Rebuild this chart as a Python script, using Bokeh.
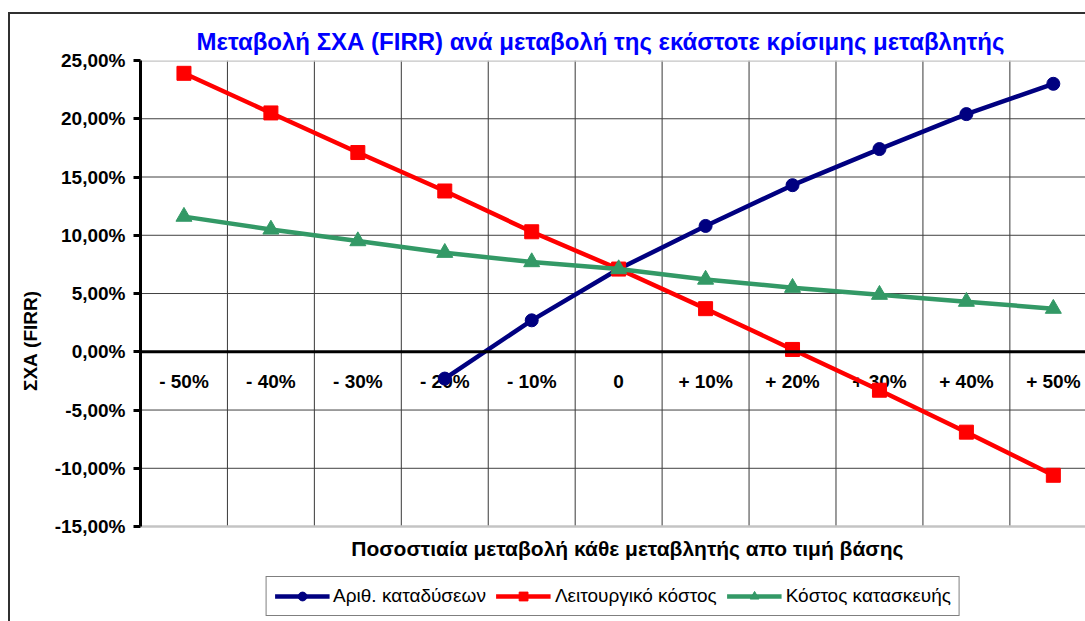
import math
from bokeh.plotting import figure
from bokeh.models import Range1d, FixedTicker, Span, Legend, LegendItem, Label
from bokeh.core.properties import value
from bokeh.embed import file_html
from bokeh.resources import INLINE

nan = float("nan")

# ---- data ----
categories = ["- 50%", "- 40%", "- 30%", "- 20%", "- 10%", "0",
              "+ 10%", "+ 20%", "+ 30%", "+ 40%", "+ 50%"]
dives = [nan, nan, nan, -2.3, 2.7, 7.1, 10.8, 14.3, 17.4, 20.4, 23.0]
operating_cost = [23.9, 20.5, 17.1, 13.8, 10.3, 7.1, 3.7, 0.2, -3.3, -6.9, -10.6]
construction_cost = [11.6, 10.5, 9.5, 8.5, 7.7, 7.1, 6.2, 5.5, 4.9, 4.3, 3.7]
series_names = ["Αριθ. καταδύσεων", "Λειτουργικό κόστος", "Κόστος κατασκευής"]
y_ticks = [-15, -10, -5, 0, 5, 10, 15, 20, 25]
y_tick_labels = ["-15,00%", "-10,00%", "-5,00%", "0,00%", "5,00%",
                 "10,00%", "15,00%", "20,00%", "25,00%"]
title_text = "Μεταβολή ΣΧΑ (FIRR) ανά μεταβολή της εκάστοτε κρίσιμης μεταβλητής"
x_title = "Ποσοστιαία μεταβολή κάθε μεταβλητής απο τιμή βάσης"
y_title = "ΣΧΑ (FIRR)"

xs = list(range(len(categories)))
FONT = "Liberation Sans"
y_lo, y_hi = y_ticks[0], y_ticks[-1]

# frame extends below the plot area to host x-title and legend
x_range = Range1d(-0.5, 10.37)
y_range = Range1d(-23.15, 25)

p = figure(width=1085, height=621, x_range=x_range, y_range=y_range,
           output_backend="svg", toolbar_location=None,
           min_border_left=140, min_border_right=0,
           min_border_top=60, min_border_bottom=0)
p.outline_line_color = None
p.background_fill_color = "white"
p.border_fill_alpha = 0
p.styles = {"box-shadow": "inset 8px 0 0 0 white, inset 0 12px 0 0 white, "
                          "inset 10px 14px 0 0 #303030",
            "background-color": "white"}
p.xgrid.visible = False
p.ygrid.visible = False
p.xaxis.visible = False

# title
p.title.text = title_text
p.title.align = "left"
p.title.offset = 56
p.title.vertical_align = "middle"
p.title.text_color = "#0000FF"
p.title.text_font = FONT
p.title.text_font_size = "24px"
p.title.text_font_style = "bold"

# grid lines of the plot area
vx = [i + 0.5 for i in xs[:-1]]
p.segment(x0=vx, y0=[y_lo] * len(vx), x1=vx, y1=[y_hi] * len(vx),
          line_color="#383838", line_width=1)
hy = [t for t in y_ticks if t not in (y_lo, 0, y_hi)]
p.segment(x0=[x_range.start] * len(hy), y0=hy, x1=[x_range.end] * len(hy), y1=hy,
          line_color="#404040", line_width=1)
p.segment(x0=[x_range.start] * 2, y0=[y_lo, y_hi], x1=[x_range.end] * 2, y1=[y_lo, y_hi],
          line_color="#c4c4c4", line_width=2.5)

# y axis
p.yaxis.bounds = (y_lo, y_hi)
p.yaxis.ticker = FixedTicker(ticks=y_ticks)
p.yaxis.major_label_overrides = {t: l for t, l in zip(y_ticks, y_tick_labels)}
p.yaxis.major_label_text_font = FONT
p.yaxis.major_label_text_font_style = "bold"
p.yaxis.major_label_text_font_size = "19px"
p.yaxis.major_label_text_color = "black"
p.yaxis.axis_line_width = 3
p.yaxis.axis_line_color = "black"
p.yaxis.major_tick_line_width = 3
p.yaxis.major_tick_out = 7
p.yaxis.major_tick_in = 0
p.yaxis.minor_tick_line_color = None
p.yaxis.major_label_standoff = 8
p.yaxis.axis_label = y_title
p.yaxis.axis_label_text_font = FONT
p.yaxis.axis_label_text_font_style = "bold"
p.yaxis.axis_label_text_font_size = "19px"
p.yaxis.axis_label_text_color = "black"
p.yaxis.axis_label_standoff = 11

# zero line (category axis)
p.add_layout(Span(location=0, dimension="width", line_color="black", line_width=3))

# category labels under the zero line
p.text(x=xs, y=[0] * len(xs), text=categories, y_offset=30,
       text_align="center", text_baseline="middle",
       text_font=value(FONT), text_font_style="bold",
       text_font_size="19px", text_color="black")

# x-axis title
p.add_layout(Label(x=5.1, y=-16.9, text=x_title, text_align="center",
                   text_baseline="middle", text_font=FONT, text_font_style="bold",
                   text_font_size="21px", text_color="black"))

colors = ["#000080", "#FF0000", "#339966"]
markers = ["circle", "square", "triangle"]
sizes = [13, 14, 16]
items = []
for name, ys, c, m, s in zip(series_names, [dives, operating_cost, construction_cost],
                             colors, markers, sizes):
    ln = p.line(xs, ys, line_color=c, line_width=4.5)
    sc = p.scatter(xs, ys, marker=m, size=s, fill_color=c, line_color=c)
    items.append(LegendItem(label=name, renderers=[ln, sc]))

legend = Legend(items=items, orientation="horizontal", location="bottom_center",
                border_line_color="black", border_line_width=1,
                background_fill_color="white", background_fill_alpha=1,
                label_text_font=FONT, label_text_font_size="19px",
                label_text_color="black",
                glyph_width=55, glyph_height=22, label_standoff=4,
                spacing=10, padding=8, margin=5)
p.add_layout(legend)

open("out.html", "w").write(file_html(p, INLINE))
